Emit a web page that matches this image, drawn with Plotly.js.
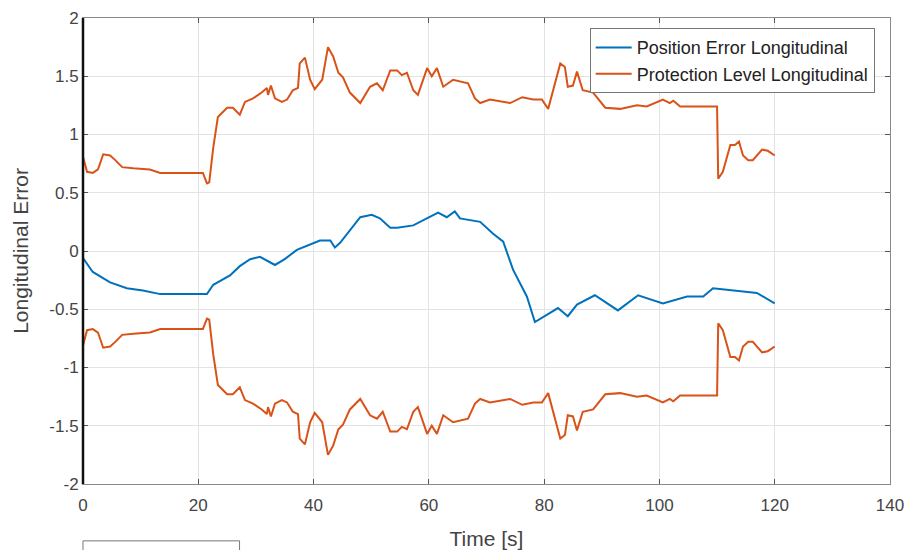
<!DOCTYPE html>
<html>
<head>
<meta charset="utf-8">
<script src="https://cdn.plot.ly/plotly-3.0.1.min.js"></script>
<style>html,body{margin:0;padding:0;background:#fff;}#chart{width:911px;height:550px;}</style>
</head>
<body>
<div id="chart"></div>
<script>
// Position error (longitudinal)
const tPE = [0,1.7,4.7,7.6,10.4,13.4,21.5,22.6,25.5,27.2,29,30.7,33.3,35,37.1,39,41.1,42.9,43.7,44.6,46.5,48.1,50.1,51.5,53.3,54.5,57.3,59.7,61.6,63.1,64.5,65.4,68.9,71.1,72.9,74.6,77,78.4,80.5,82.4,84.1,85.7,88.8,92.8,96.3,100.6,104.8,107.6,109.3,112.8,116.9,120];
const posErr = [-0.06,-0.18,-0.27,-0.32,-0.34,-0.37,-0.37,-0.29,-0.21,-0.13,-0.07,-0.05,-0.12,-0.07,0.01,0.05,0.09,0.09,0.03,0.07,0.19,0.29,0.31,0.28,0.2,0.2,0.22,0.28,0.33,0.29,0.34,0.28,0.25,0.15,0.08,-0.16,-0.39,-0.61,-0.55,-0.49,-0.56,-0.46,-0.38,-0.51,-0.38,-0.45,-0.39,-0.39,-0.32,-0.34,-0.36,-0.45];

// Protection level (longitudinal), plotted as +PL and -PL
const tPL = [0,0.7,1.7,2.6,3.5,4.7,5.6,6.8,8.7,11.6,13.4,20.8,21.5,21.9,22.6,23.4,25,26,27.2,28.1,29.5,31,31.9,32.1,32.6,33.3,34.5,35.4,36.4,37.3,37.6,38.5,39.4,40.2,41.5,42.5,43.4,44.3,45.1,46.3,48.1,49.8,51,52,53.3,54.5,55.3,56.2,57.3,58.1,59.7,60.5,61.4,62.5,64.2,65.9,66.8,68,68.9,70.6,74.1,76.2,78.1,79.6,80.7,82.8,83.6,84.1,85,85.7,86.7,88.5,90.6,93.2,96.1,97.8,100.6,101.8,102.4,103.6,110,110.2,111,112.3,113.1,113.8,114.5,115.4,116.2,117.8,118.8,120];
const protLevel = [0.81,0.68,0.67,0.7,0.83,0.82,0.78,0.72,0.71,0.7,0.67,0.67,0.58,0.59,0.89,1.15,1.23,1.23,1.17,1.28,1.31,1.36,1.4,1.34,1.42,1.31,1.28,1.3,1.38,1.4,1.61,1.66,1.47,1.39,1.47,1.75,1.67,1.53,1.49,1.36,1.27,1.41,1.44,1.38,1.55,1.55,1.51,1.53,1.38,1.34,1.57,1.5,1.57,1.41,1.47,1.45,1.44,1.31,1.27,1.3,1.27,1.32,1.3,1.3,1.22,1.61,1.58,1.41,1.42,1.54,1.38,1.36,1.23,1.22,1.25,1.24,1.3,1.27,1.29,1.24,1.24,0.62,0.68,0.91,0.91,0.94,0.82,0.78,0.78,0.87,0.86,0.82];

const xTicks = [0,20,40,60,80,100,120,140];
const yTicks = [-2,-1.5,-1,-0.5,0,0.5,1,1.5,2];
const yTickText = ['-2','-1.5','-1','-0.5','0','0.5','1','1.5','2'];

const blue = '#0072BD', orange = '#D95319';
const traces = [
  {x: tPE, y: posErr, mode: 'lines', name: 'Position Error Longitudinal', line: {color: blue, width: 2}},
  {x: tPL, y: protLevel, mode: 'lines', name: 'Protection Level Longitudinal', line: {color: orange, width: 2}},
  {x: tPL, y: protLevel.map(v => -v), mode: 'lines', name: 'Protection Level Longitudinal', showlegend: false, line: {color: orange, width: 2}}
];

const FAM = 'Liberation Sans, Arial, sans-serif';
const tickFont = {family: FAM, size: 17, color: '#444'};
const titleFont = {family: FAM, size: 21, color: '#444'};
const layout = {
  width: 911, height: 550,
  margin: {l: 83, r: 21, t: 18, b: 66},
  paper_bgcolor: '#fff', plot_bgcolor: '#fff',
  showlegend: true,
  font: tickFont,
  xaxis: {
    range: [0, 140], tickvals: xTicks, ticktext: xTicks.map(String),
    showgrid: true, gridcolor: '#e3e3e3', gridwidth: 1, zeroline: false,
    showline: true, linecolor: '#8a8a8a', linewidth: 1, mirror: 'ticks',
    ticks: 'inside', ticklen: 5, tickcolor: '#555',
    tickfont: tickFont, ticklabelstandoff: 6,
    title: {text: 'Time [s]', font: titleFont, standoff: 16}
  },
  yaxis: {
    range: [-2, 2], tickvals: yTicks, ticktext: yTickText,
    showgrid: true, gridcolor: '#e3e3e3', gridwidth: 1, zeroline: false,
    showline: true, linecolor: '#8a8a8a', linewidth: 1, mirror: 'ticks',
    ticks: 'inside', ticklen: 5, tickcolor: '#555',
    tickfont: tickFont,
    title: {text: 'Longitudinal Error', font: titleFont, standoff: 14}
  },
  legend: {
    x: 0.981, y: 0.978, xanchor: 'right', yanchor: 'top',
    bgcolor: '#fff', bordercolor: '#777', borderwidth: 1,
    font: {family: FAM, size: 18, color: '#222'},
    tracegroupgap: 0, itemwidth: 36
  },
  shapes: [
    {type: 'line', xref: 'paper', yref: 'paper', x0: 0, x1: 0, y0: 0, y1: 1, line: {color: '#111', width: 2.5}, layer: 'above'},
    {type: 'rect', xref: 'paper', yref: 'paper', x0: 0, x1: 0.194, y0: -0.122, y1: -0.2, line: {color: '#777', width: 1}, fillcolor: '#fff', layer: 'above'}
  ]
};

Plotly.newPlot('chart', traces, layout, {displayModeBar: false, staticPlot: true});
</script>
</body>
</html>
